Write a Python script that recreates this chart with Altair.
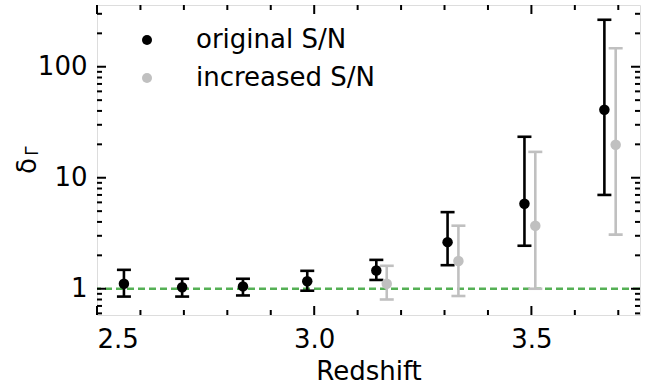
import altair as alt
import pandas as pd

# Photo-ionisation rate scatter delta_Gamma per redshift bin
z_orig = [2.562, 2.696, 2.836, 2.984, 3.143, 3.307, 3.484, 3.668]
d_orig = [1.11, 1.03, 1.05, 1.17, 1.46, 2.63, 5.83, 41.0]
lo_orig = [0.85, 0.85, 0.87, 0.96, 1.20, 1.63, 2.44, 7.0]
hi_orig = [1.48, 1.23, 1.23, 1.45, 1.82, 4.9, 23.4, 265.0]

z_inc = [3.167, 3.332, 3.509, 3.694]
d_inc = [1.11, 1.78, 3.69, 19.8]
lo_inc = [0.80, 0.86, 1.0, 3.07]
hi_inc = [1.61, 3.7, 17.1, 147.0]

series_names = ["original S/N", "increased S/N"]
series_colors = ["#000000", "#c0c0c0"]

# axis ticks
x_major = [2.5, 3.0, 3.5]
x_minor = [2.6, 2.7, 2.8, 2.9, 3.1, 3.2, 3.3, 3.4, 3.6, 3.7]
y_major = [1, 10, 100]
y_minor = [0.6, 0.7, 0.8, 0.9, 2, 3, 4, 5, 6, 7, 8, 9,
           20, 30, 40, 50, 60, 70, 80, 90, 200, 300]
reference_level = [1.0]

W, H = 543, 310
FONT = "DejaVu Sans"
LW = 2.6

orig = pd.DataFrame({"z": z_orig, "d": d_orig, "lo": lo_orig, "hi": hi_orig})
orig["series"] = series_names[0]
inc = pd.DataFrame({"z": z_inc, "d": d_inc, "lo": lo_inc, "hi": hi_inc})
inc["series"] = series_names[1]
df = pd.concat([orig, inc], ignore_index=True)

xs = alt.Scale(domain=[2.5, 3.75], nice=False, zero=False)
ys = alt.Scale(type="log", domain=[0.58, 360], nice=False)

xaxis = alt.Axis(values=x_major, format=".1f", title="Redshift", labelFontSize=26,
                 titleFontSize=26, titleFontWeight="normal", labelPadding=11,
                 titlePadding=6, ticks=False, domain=False, grid=False,
                 labelColor="black", titleColor="black", labelFont=FONT, titleFont=FONT)
yaxis = alt.Axis(values=y_major, format=".0f", title=None, labelFontSize=26,
                 labelPadding=10, ticks=False, domain=False, grid=False,
                 labelColor="black", labelFont=FONT)


def X(field):
    return alt.X(field, type="quantitative", scale=xs, axis=xaxis)


def Y(field):
    return alt.Y(field, type="quantitative", scale=ys, axis=yaxis)


def error_layers(data, colour):
    bars = alt.Chart(data).mark_rule(strokeWidth=LW, color=colour).encode(
        x=X("z"), y=Y("lo"), y2="hi")
    cap_hi = alt.Chart(data).mark_tick(orient="horizontal", size=14, thickness=LW,
                                       color=colour, opacity=1).encode(x=X("z"), y=Y("hi"))
    cap_lo = alt.Chart(data).mark_tick(orient="horizontal", size=14, thickness=LW,
                                       color=colour, opacity=1).encode(x=X("z"), y=Y("lo"))
    return [bars, cap_hi, cap_lo]


cscale = alt.Scale(domain=series_names, range=series_colors)
points = alt.Chart(df).mark_circle(size=110, opacity=1).encode(
    x=X("z"), y=Y("d"),
    color=alt.Color(
        "series:N", scale=cscale,
        legend=alt.Legend(title=None, orient="none", legendX=37, legendY=22,
                          labelFontSize=26, labelFont=FONT, labelColor="black",
                          labelLimit=0,
                          symbolType="circle", symbolSize=100, symbolStrokeWidth=0,
                          symbolOpacity=1, labelOffset=36, rowPadding=12, padding=0),
    ),
)

ref = alt.Chart(pd.DataFrame({"v": reference_level})).mark_rule(
    color="#55b055", strokeWidth=2.4, strokeDash=[7, 4]
).encode(y=Y("v"))


def xticks(vals, length):
    d = pd.DataFrame({"t": vals})
    bottom = alt.Chart(d).mark_rule(color="black", strokeWidth=2).encode(
        x=X("t"), y=alt.value(H), y2=alt.value(H - length))
    top = alt.Chart(d).mark_rule(color="black", strokeWidth=2).encode(
        x=X("t"), y=alt.value(0), y2=alt.value(length))
    return [bottom, top]


def yticks(vals, length):
    d = pd.DataFrame({"t": vals})
    left = alt.Chart(d).mark_rule(color="black", strokeWidth=2).encode(
        y=Y("t"), x=alt.value(0), x2=alt.value(length))
    right = alt.Chart(d).mark_rule(color="black", strokeWidth=2).encode(
        y=Y("t"), x=alt.value(W), x2=alt.value(W - length))
    return [left, right]


title_df = pd.DataFrame({"k": [0]})
delta = alt.Chart(title_df).mark_text(
    text="δ", angle=270, fontSize=26, font=FONT, align="center", baseline="middle", color="black"
).encode(x=alt.value(-69), y=alt.value(161))
gamma = alt.Chart(title_df).mark_text(
    text="Γ", angle=270, fontSize=17, font=FONT, align="center", baseline="middle", color="black"
).encode(x=alt.value(-64), y=alt.value(146))

layers = [ref]
layers += xticks(x_major, 9) + xticks(x_minor, 5)
layers += yticks(y_major, 9) + yticks(y_minor, 5)
layers += error_layers(orig, series_colors[0]) + error_layers(inc, series_colors[1])
layers += [points, delta, gamma]

chart = alt.layer(*layers).properties(
    width=W, height=H,
    autosize=alt.AutoSizeParams(type="none"),
    padding={"left": 97, "top": 5, "right": 22, "bottom": 75},
).configure_view(
    stroke="black", strokeWidth=3
).configure(background="white")

chart.save("out.html", embed_options={"renderer": "svg", "actions": False})
